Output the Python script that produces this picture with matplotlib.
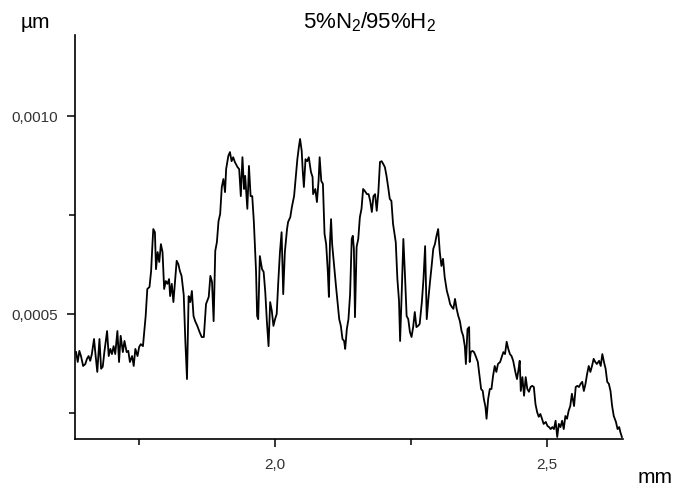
import numpy as np
import matplotlib.pyplot as plt
from matplotlib.ticker import FixedLocator, FuncFormatter

plt.rcParams['font.family'] = ['Liberation Sans', 'DejaVu Sans']
plt.rcParams['mathtext.fontset'] = 'custom'
plt.rcParams['mathtext.rm'] = 'Liberation Sans'

# surface profile, position in mm
pos = [
    1.634, 1.637, 1.640, 1.643, 1.647, 1.651, 1.654, 1.657, 1.660, 1.663,
    1.667, 1.670, 1.673, 1.677, 1.680, 1.683, 1.686, 1.691, 1.694, 1.697,
    1.700, 1.703, 1.706, 1.710, 1.713, 1.716, 1.720, 1.723, 1.727, 1.730,
    1.733, 1.737, 1.740, 1.743, 1.747, 1.750, 1.753, 1.757, 1.759, 1.762,
    1.765, 1.769, 1.772, 1.774, 1.776, 1.779, 1.781, 1.784, 1.787, 1.790,
    1.793, 1.796, 1.799, 1.802, 1.805, 1.807, 1.810, 1.813, 1.816, 1.819,
    1.822, 1.825, 1.828, 1.832, 1.835, 1.838, 1.841, 1.844, 1.847, 1.850,
    1.853, 1.857, 1.861, 1.865, 1.869, 1.873, 1.878, 1.881, 1.884, 1.887,
    1.890, 1.893, 1.896, 1.899, 1.902, 1.905, 1.908, 1.910, 1.914, 1.917,
    1.920, 1.923, 1.926, 1.931, 1.934, 1.937, 1.940, 1.943, 1.945, 1.949,
    1.952, 1.955, 1.958, 1.961, 1.965, 1.967, 1.969, 1.972, 1.976, 1.979,
    1.982, 1.985, 1.988, 1.991, 1.994, 1.997, 2.000, 2.003, 2.006, 2.009,
    2.012, 2.015, 2.018, 2.022, 2.024, 2.028, 2.031, 2.035, 2.038, 2.041,
    2.044, 2.046, 2.049, 2.051, 2.053, 2.056, 2.059, 2.062, 2.066, 2.069,
    2.070, 2.074, 2.077, 2.080, 2.082, 2.085, 2.088, 2.091, 2.094, 2.097,
    2.099, 2.101, 2.103, 2.105, 2.108, 2.112, 2.115, 2.118, 2.121, 2.124,
    2.127, 2.129, 2.132, 2.135, 2.138, 2.141, 2.143, 2.145, 2.147, 2.150,
    2.153, 2.156, 2.159, 2.162, 2.165, 2.169, 2.172, 2.175, 2.178, 2.181,
    2.184, 2.187, 2.190, 2.193, 2.196, 2.199, 2.202, 2.205, 2.208, 2.211,
    2.214, 2.217, 2.221, 2.222, 2.225, 2.228, 2.230, 2.233, 2.236, 2.239,
    2.242, 2.245, 2.248, 2.251, 2.254, 2.257, 2.260, 2.263, 2.266, 2.270,
    2.273, 2.276, 2.279, 2.282, 2.285, 2.288, 2.291, 2.294, 2.297, 2.300,
    2.303, 2.306, 2.309, 2.312, 2.316, 2.319, 2.322, 2.325, 2.328, 2.331,
    2.334, 2.337, 2.340, 2.343, 2.346, 2.349, 2.351, 2.354, 2.357, 2.358,
    2.360, 2.363, 2.366, 2.369, 2.373, 2.376, 2.379, 2.382, 2.384, 2.387,
    2.389, 2.392, 2.395, 2.398, 2.401, 2.404, 2.407, 2.410, 2.414, 2.417,
    2.420, 2.423, 2.426, 2.429, 2.432, 2.435, 2.438, 2.442, 2.445, 2.448,
    2.450, 2.452, 2.455, 2.458, 2.461, 2.464, 2.467, 2.470, 2.473, 2.476,
    2.479, 2.482, 2.485, 2.488, 2.491, 2.494, 2.498, 2.501, 2.504, 2.507,
    2.510, 2.513, 2.516, 2.519, 2.522, 2.525, 2.528, 2.531, 2.534, 2.537,
    2.540, 2.543, 2.546, 2.550, 2.553, 2.556, 2.559, 2.562, 2.565, 2.568,
    2.571, 2.574, 2.577, 2.580, 2.583, 2.586, 2.589, 2.592, 2.596, 2.599,
    2.602, 2.605, 2.608, 2.611, 2.614, 2.617, 2.620, 2.623, 2.627, 2.630,
    2.633, 2.635, 2.638,
]

# height, in units of 1e-4
height_e4 = [
    4.04, 3.79, 4.07, 3.94, 3.69, 3.74, 3.87, 3.94, 3.82, 3.99,
    4.37, 3.94, 3.54, 4.37, 3.62, 3.67, 4.04, 4.57, 3.94, 4.12,
    3.99, 4.19, 3.99, 4.57, 3.79, 4.45, 4.04, 4.32, 4.04, 4.07,
    3.79, 3.94, 3.69, 4.12, 3.94, 4.17, 4.24, 4.19, 4.50, 4.95,
    5.63, 5.68, 6.08, 6.64, 7.14, 7.06, 6.13, 6.56, 6.31, 6.76,
    6.56, 5.63, 5.83, 5.76, 5.88, 5.45, 5.76, 5.30, 5.81, 6.34,
    6.26, 6.08, 5.96, 5.48, 4.30, 3.36, 5.45, 5.30, 5.58, 4.95,
    4.82, 4.70, 4.55, 4.42, 4.42, 5.25, 5.43, 5.96, 5.81, 4.82,
    6.59, 6.81, 7.34, 7.52, 8.20, 8.40, 8.07, 8.65, 8.98, 9.08,
    8.85, 8.95, 8.83, 8.70, 8.65, 7.97, 8.95, 8.15, 8.48, 7.65,
    8.73, 7.97, 7.97, 7.32, 6.08, 4.95, 4.87, 6.46, 6.13, 6.06,
    5.55, 4.80, 4.19, 5.30, 5.08, 4.70, 4.87, 5.00, 5.83, 6.56,
    7.06, 5.50, 6.56, 7.14, 7.32, 7.44, 7.70, 7.97, 8.45, 8.90,
    9.23, 9.41, 9.11, 8.58, 8.20, 8.90, 8.85, 8.95, 8.58, 8.45,
    8.02, 8.15, 7.82, 8.35, 8.95, 8.35, 8.28, 7.02, 6.76, 6.08,
    5.43, 6.81, 7.39, 6.76, 6.31, 5.71, 5.30, 4.87, 4.70, 4.37,
    4.32, 4.12, 4.62, 4.87, 5.50, 6.89, 6.97, 6.64, 4.92, 6.69,
    6.89, 7.44, 7.65, 8.15, 8.10, 8.02, 8.02, 7.85, 7.57, 7.97,
    8.02, 7.60, 8.07, 8.83, 8.85, 8.78, 8.70, 8.48, 8.20, 7.90,
    7.85, 7.27, 6.89, 6.81, 5.88, 5.33, 4.32, 5.55, 6.89, 5.96,
    4.95, 4.87, 4.55, 4.42, 4.67, 5.05, 4.67, 4.70, 4.75, 5.30,
    5.88, 6.71, 4.87, 5.38, 5.81, 6.21, 6.64, 6.76, 6.97, 7.14,
    6.56, 6.21, 6.39, 5.93, 5.58, 5.43, 5.25, 5.18, 5.13, 5.38,
    5.13, 4.95, 4.82, 4.57, 4.45, 4.19, 3.74, 4.62, 4.67, 3.79,
    4.04, 4.07, 4.04, 3.94, 3.79, 3.44, 3.11, 3.06, 2.86, 2.66,
    2.36, 2.86, 3.11, 3.11, 3.44, 3.69, 3.54, 3.74, 3.79, 3.92,
    4.04, 3.99, 4.30, 4.12, 3.99, 3.94, 3.82, 3.54, 3.36, 3.62,
    3.82, 3.06, 3.41, 2.94, 3.41, 3.11, 3.04, 3.16, 3.19, 3.16,
    2.73, 2.53, 2.41, 2.48, 2.36, 2.23, 2.28, 2.18, 2.15, 2.10,
    2.15, 2.10, 2.31, 1.90, 2.23, 2.15, 2.31, 2.10, 2.43, 2.36,
    2.56, 2.68, 2.99, 2.68, 3.16, 3.19, 3.16, 3.24, 3.29, 3.06,
    3.24, 3.49, 3.69, 3.54, 3.69, 3.87, 3.79, 3.74, 3.82, 3.69,
    3.99, 3.79, 3.62, 3.29, 3.24, 3.06, 2.68, 2.43, 2.28, 2.10,
    2.15, 2.03, 1.90,
]

x_major = [2.0, 2.5]
x_minor = [1.75, 2.25]
y_major = [0.0005, 0.0010]
y_minor = [0.00025, 0.00075]

x = np.array(pos)
y = np.array(height_e4) * 1e-4

fig = plt.figure(figsize=(6.75, 4.89), dpi=100)
ax = fig.add_axes([75 / 675, 49 / 489, 548 / 675, 404 / 489])

ax.plot(x, y, color="black", lw=1.3)

ax.set_xlim(1.632, 2.640)
ax.set_ylim(0.000185, 0.001203)

for side in ("top", "right"):
    ax.spines[side].set_visible(False)
ax.spines["left"].set_linewidth(1.2)
ax.spines["bottom"].set_linewidth(1.2)

ax.xaxis.set_major_locator(FixedLocator(x_major))
ax.xaxis.set_minor_locator(FixedLocator(x_minor))
ax.yaxis.set_major_locator(FixedLocator(y_major))
ax.yaxis.set_minor_locator(FixedLocator(y_minor))
ax.xaxis.set_major_formatter(FuncFormatter(lambda v, p: f"{v:.1f}".replace(".", ",")))
ax.yaxis.set_major_formatter(FuncFormatter(lambda v, p: f"{v:.4f}".replace(".", ",")))

ax.tick_params(which="major", direction="out", length=6, width=1.1,
               labelsize=11, colors="black", labelcolor="#333333")
ax.tick_params(axis="x", which="major", pad=7)
ax.tick_params(axis="y", which="major", pad=6)
ax.tick_params(which="minor", direction="out", length=4, width=1.1)

fig.text(35 / 675, 1 - 23 / 489, "\u00b5m", ha="center", va="center", fontsize=15)
fig.text(655 / 675, 1 - 478 / 489, "mm", ha="center", va="center", fontsize=15)
fig.text(369 / 675, 1 - 22 / 489, r"5%N$_2$/95%H$_2$", ha="center", va="center",
         fontsize=16)

fig.savefig("out.png", dpi=100)
